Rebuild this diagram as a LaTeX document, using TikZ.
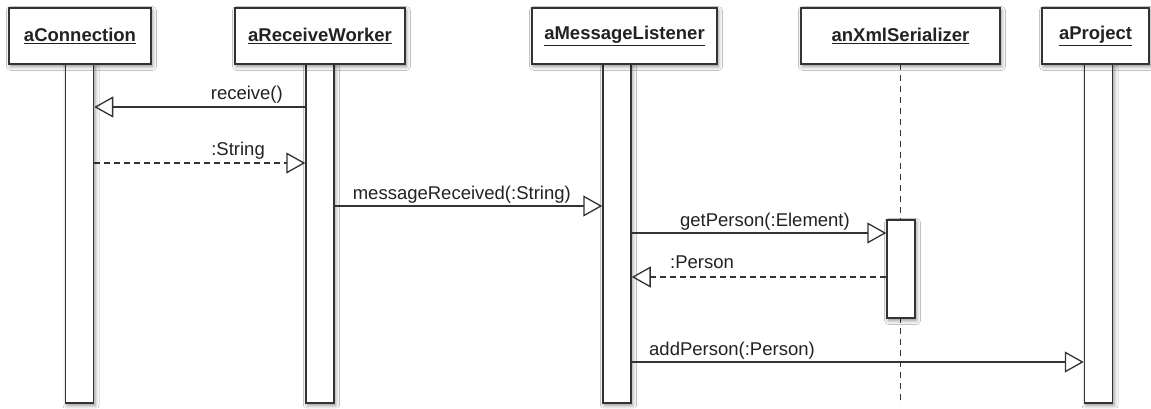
\documentclass[tikz,border=0pt]{standalone}
\usepackage{fontspec}
\setmainfont{Liberation Sans}
\usetikzlibrary{arrows.meta,shadows.blur}
\definecolor{ln}{HTML}{333333}
\definecolor{tx}{HTML}{222222}
\begin{document}
\begin{tikzpicture}[x=1pt,y=1pt,
  softshade/.style={blur shadow={shadow xshift=1.5pt,shadow yshift=-2.5pt,shadow blur radius=4pt,shadow opacity=45}},
  head/.style={draw=ln,line width=1.5pt,fill=white,softshade,inner sep=0pt,minimum height=56pt,font=\fontsize{18.5}{22}\selectfont\bfseries,text=tx},
  bar/.style={draw=ln,line width=1.5pt,fill=white,softshade,inner sep=0pt,minimum width=28pt},
  msg/.style={draw=ln,line width=1.3pt,-{Triangle[open,length=19pt,width=21pt,line width=1.3pt]}},
  ret/.style={msg,dash pattern=on 6pt off 4pt},
  life/.style={draw=ln,line width=1.4pt,dash pattern=on 6pt off 5pt},
  lbl/.style={font=\fontsize{18.5}{22}\selectfont,text=tx,inner sep=0pt},
]
\fill[white] (0,0) rectangle (1151,-408);
\useasboundingbox (0,0) rectangle (1151,-408);

% lifeline of serializer
\coordinate (xend) at (900.5,-405);
\coordinate (xtop) at (900.5,-64);
\draw[life] (xtop) -- (xend);

% activation bars
\node[bar,minimum height=339pt] (cb) at (79.5,-233.5) {};
\node[bar,minimum height=339pt] (rb) at (320,-233.5) {};
\node[bar,minimum height=339pt] (mb) at (617,-233.5) {};
\node[bar,minimum height=339pt] (pb) at (1098.5,-233.5) {};
\node[bar,minimum height=98pt] (xb) at (901,-269) {};

% heads
\node[head,minimum width=142pt] (hc) at (80,-36) {\underline{aConnection}};
\node[head,minimum width=170pt] (hr) at (320,-36) {\underline{aReceiveWorker}};
\node[head,minimum width=185pt] (hm) at (624.5,-36) {\underline{aMessageListener}};
\node[head,minimum width=199pt] (hx) at (900.5,-36) {\underline{anXmlSerializer}};
\node[head,minimum width=107pt] (hp) at (1095.5,-36) {\underline{aProject}};

% message rows
\coordinate (y1) at (0,-107);
\coordinate (y2) at (0,-163);
\coordinate (y3) at (0,-206);
\coordinate (y4) at (0,-233);
\coordinate (y5) at (0,-277);
\coordinate (y6) at (0,-362);

\draw[msg] (rb.west |- y1) -- (cb.east |- y1);
\draw[ret] (cb.east |- y2) -- (rb.west |- y2);
\draw[msg] (rb.east |- y3) -- (mb.west |- y3);
\draw[msg] (mb.east |- y4) -- (xb.west |- y4);
\draw[ret] (xb.west |- y5) -- (mb.east |- y5);
\draw[msg] (mb.east |- y6) -- (pb.west |- y6);

% labels
\node[lbl,anchor=base east] (l1) at (283,-99) {receive()};
\node[lbl,anchor=base east] (l2) at (265,-155) {:String};
\node[lbl,anchor=base east] (l3) at (571,-199) {messageReceived(:String)};
\node[lbl,anchor=base east] (l4) at (850,-226) {getPerson(:Element)};
\node[lbl,anchor=base west] (l5) at (670,-268) {:Person};
\node[lbl,anchor=base west] (l6) at (649,-355) {addPerson(:Person)};
\end{tikzpicture}
\end{document}
